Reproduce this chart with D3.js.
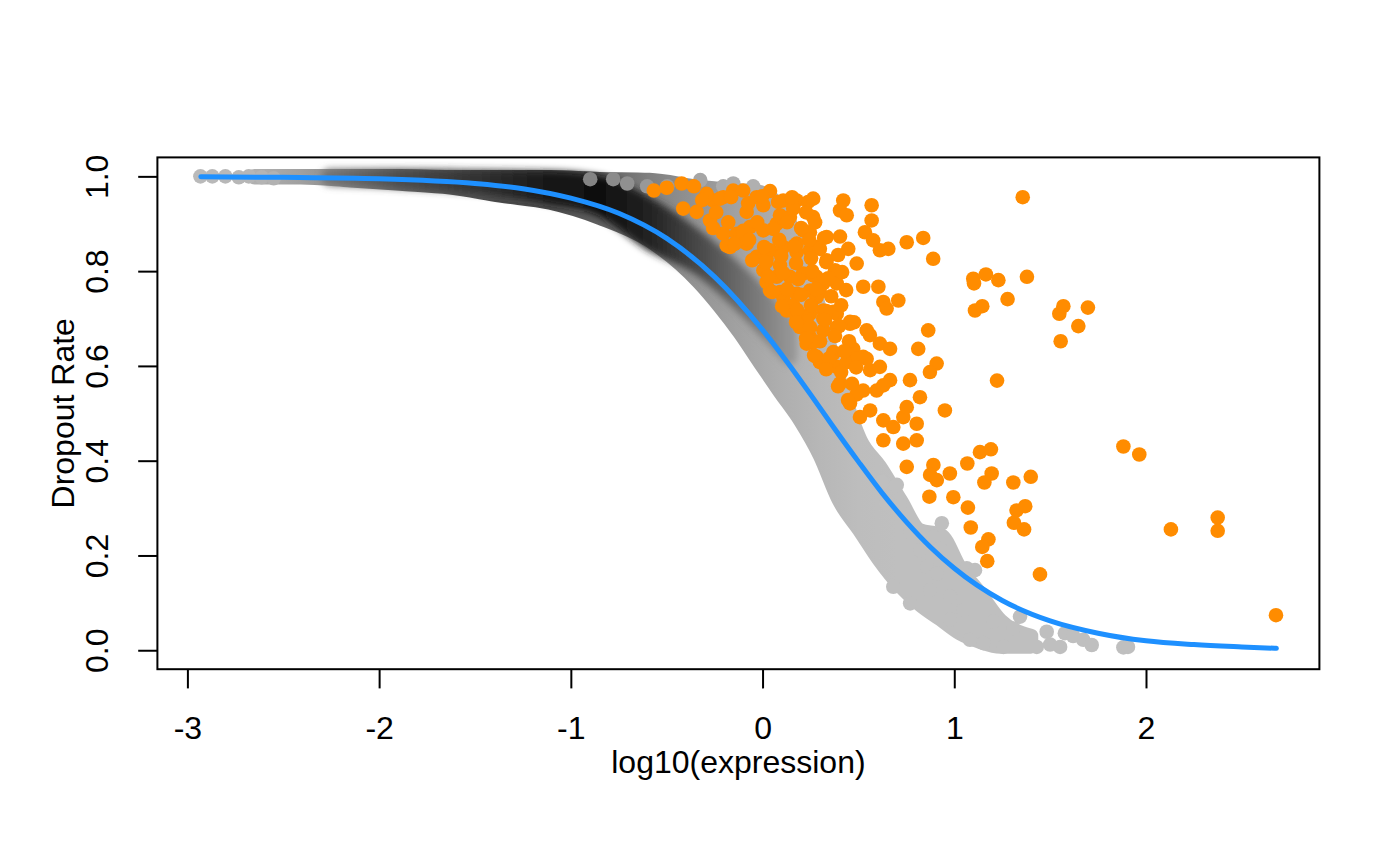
<!DOCTYPE html>
<html><head><meta charset="utf-8">
<script src="https://cdn.jsdelivr.net/npm/d3@7"></script>
<style>
body{margin:0;background:#fff}
svg{display:block}
text{font-family:"Liberation Sans",Arial,Helvetica,sans-serif;fill:#000}
</style>
</head><body>
<svg id="chart" width="1400" height="865"></svg>
<script>
// ---------------- data ----------------
const xTicks = [-3, -2, -1, 0, 1, 2];
const yTicks = [0, 0.2, 0.4, 0.6, 0.8, 1.0];
const yLimits = [0, 1];
const xTitle = "log10(expression)";
const yTitle = "Dropout Rate";

// dense cloud of all genes: envelope of point centres (log10 expression -> dropout)
const bandX    = [-2.65,-2.41,-2.15,-1.89,-1.63,-1.37,-1.11,-0.85,-0.59,-0.33,-0.22,-0.12,-0.01,0.09,0.20,0.30,0.40,0.51,0.61,0.72,0.82,0.93,1.03,1.13,1.24,1.40];
const bandHigh = [1.000,1.000,1.000,1.000,0.998,0.998,0.998,0.994,0.992,0.977,0.973,0.970,0.966,0.935,0.848,0.717,0.570,0.443,0.388,0.316,0.253,0.243,0.173,0.122,0.063,0.030];
const bandLow  = [0.998,0.998,0.992,0.985,0.977,0.960,0.945,0.913,0.865,0.776,0.724,0.671,0.605,0.546,0.483,0.411,0.316,0.251,0.190,0.135,0.097,0.065,0.036,0.019,0.008,0.008];
// relative point density along the cloud (0 = sparse, 1 = densest)
const bandDensX     = [-2.93,-2.65,-2.41,-2.15,-1.89,-1.63,-1.37,-1.11,-0.85,-0.59,-0.33,-0.12,0.09,0.30,0.50,0.70];
const bandDensLevel = [0.04,0.08,0.16,0.30,0.45,0.55,0.60,0.60,0.50,0.33,0.22,0.15,0.09,0.04,0.01,0.00];
// densest core of the cloud
const coreX    = [-2.26,-1.89,-1.47,-1.11,-0.85,-0.59,-0.33,-0.07,0.14];
const coreHigh = [1.000,1.000,0.998,0.996,0.986,0.939,0.867,0.776,0.682];
const coreLow  = [0.996,0.990,0.979,0.958,0.933,0.860,0.806,0.711,0.617];
const coreDensLevel = [0.40,0.60,0.75,0.88,0.92,0.82,0.62,0.40,0.22];

// individually visible genes at the cloud edges
const greyGenes = [
  [-2.932,1.000],[-2.870,1.000],[-2.802,1.000],[-2.732,0.998],[-2.680,1.000],[-2.612,0.998],[-2.550,0.996],
  [-0.899,0.994],[-0.779,0.994],[-0.706,0.985],[-0.602,0.979],[-0.497,0.979],[-0.325,0.992],[-0.205,0.979],[-0.153,0.985],[-0.049,0.979],
  [0.622,0.355],[0.700,0.349],[0.717,0.306],[0.648,0.310],[0.770,0.250],[0.822,0.211],[0.891,0.239],[0.935,0.268],
  [0.926,0.215],[0.857,0.176],[0.909,0.162],[1.065,0.173],[1.108,0.169],[0.682,0.134],[0.770,0.099],[0.874,0.127],
  [0.978,0.113],[1.047,0.085],[0.978,0.064],[1.204,0.060],[1.343,0.071],[1.308,0.046],[1.482,0.039],[1.577,0.036],
  [1.673,0.022],[1.717,0.011],[1.882,0.006],[1.906,0.007],[1.430,0.007],[1.552,0.007],[1.256,0.007],[1.152,0.015],[1.082,0.022],
  [1.500,0.012],[1.620,0.030]
];

// highlighted (significant) genes
const highlightGenes = [
  [-0.567,0.970],[-0.500,0.976],[-0.422,0.985],[-0.358,0.979],[-0.414,0.932],[-0.344,0.925],[-0.292,0.963],[-0.257,0.949],
  [-0.205,0.956],[-0.153,0.970],[-0.101,0.970],[-0.031,0.956],[0.039,0.969],[0.108,0.949],[0.178,0.949],[0.238,0.946],
  [0.264,0.914],[-0.274,0.907],[-0.205,0.879],[-0.135,0.879],[-0.066,0.893],[0.004,0.886],[0.074,0.900],[0.143,0.914],
  [0.212,0.886],[-0.170,0.851],[-0.083,0.858],[-0.031,0.830],[0.039,0.844],[0.108,0.851],[0.178,0.858],[0.247,0.844],
  [0.282,0.851],[0.334,0.872],[0.404,0.873],[0.421,0.949],[0.404,0.928],[0.439,0.918],[0.569,0.939],[0.569,0.907],
  [0.534,0.882],[0.577,0.865],[0.612,0.844],[0.656,0.847],[0.752,0.861],[0.838,0.870],[0.890,0.826],[0.447,0.847],
  [0.491,0.816],[0.334,0.823],[0.378,0.802],[0.387,0.774],[0.525,0.767],[0.604,0.767],[0.630,0.735],[0.647,0.721],
  [0.708,0.738],[0.004,0.802],[0.074,0.788],[0.143,0.788],[0.212,0.795],[0.282,0.788],[0.317,0.774],[0.039,0.759],
  [0.108,0.745],[0.178,0.752],[0.247,0.759],[0.282,0.745],[0.126,0.717],[0.178,0.703],[0.247,0.710],[0.317,0.717],
  [0.387,0.710],[0.195,0.682],[0.247,0.661],[0.317,0.675],[0.387,0.682],[0.456,0.689],[0.543,0.675],[0.230,0.647],
  [0.282,0.619],[0.369,0.626],[0.456,0.633],[0.525,0.619],[0.387,0.598],[0.404,0.563],[0.561,0.591],[0.612,0.598],
  [0.665,0.570],[0.769,0.570],[0.821,0.534],[0.456,0.521],[0.508,0.492],[0.561,0.506],[0.630,0.485],[0.682,0.471],
  [0.734,0.492],[0.752,0.513],[0.804,0.478],[0.630,0.443],[0.734,0.436],[0.804,0.443],[0.864,0.675],[0.812,0.636],
  [0.908,0.605],[0.873,0.587],[0.951,0.506],[0.612,0.647],[0.665,0.636],[0.525,0.548],[0.595,0.548],[0.630,0.559],
  [0.491,0.540],
  [-0.292,0.960],[-0.222,0.953],[-0.083,0.925],[-0.135,0.861],[-0.187,0.854],[0.021,0.826],[0.091,0.812],[0.178,0.840],
  [0.247,0.882],[0.299,0.847],[0.021,0.777],[0.091,0.756],[0.160,0.728],[0.264,0.791],[0.299,0.756],[0.230,0.693],
  [0.317,0.700],[0.369,0.714],[0.456,0.693],[0.264,0.650],[0.369,0.629],[0.473,0.636],[0.560,0.665],[0.543,0.615],
  [0.439,0.608],[0.299,0.608],[0.004,0.939],[0.091,0.918],[0.160,0.932],[0.264,0.953],
  [-0.315,0.950],[-0.242,0.924],[-0.164,0.956],[-0.075,0.943],[-0.002,0.958],[0.081,0.946],[0.154,0.956],[0.227,0.924],
  [-0.258,0.891],[-0.179,0.903],[-0.101,0.885],[-0.028,0.903],[0.055,0.889],[0.128,0.903],[0.201,0.891],[0.274,0.903],
  [-0.148,0.857],[-0.070,0.866],[0.008,0.851],[0.087,0.866],[0.165,0.853],[0.243,0.866],[0.321,0.870],
  [-0.054,0.823],[0.019,0.819],[0.097,0.832],[0.175,0.817],[0.253,0.827],[0.332,0.819],[0.394,0.834],
  [0.029,0.789],[0.107,0.796],[0.186,0.783],[0.259,0.800],[0.342,0.785],[0.415,0.798],
  [0.050,0.756],[0.128,0.762],[0.201,0.750],[0.279,0.762],[0.358,0.747],[0.436,0.760],
  [0.102,0.726],[0.180,0.718],[0.253,0.728],[0.332,0.716],[0.410,0.728],
  [0.175,0.692],[0.248,0.682],[0.326,0.697],[0.399,0.684],[0.477,0.692],
  [0.227,0.658],[0.300,0.652],[0.378,0.663],[0.451,0.652],
  [0.269,0.622],[0.347,0.616],[0.425,0.631],[0.498,0.616],
  [0.332,0.593],[0.410,0.587],[0.488,0.597],
  [0.394,0.557],[0.467,0.562],[0.446,0.528],
  [0.752,0.387],[0.891,0.391],[0.874,0.370],[0.909,0.359],[0.870,0.324],
  [1.357,0.956],[1.099,0.784],[1.103,0.774],[1.165,0.793],[1.230,0.781],[1.379,0.788],[1.278,0.741],[1.108,0.717],
  [1.146,0.726],[1.548,0.710],[1.569,0.726],[1.697,0.723],[1.647,0.684],[1.555,0.652],[1.223,0.569],[1.882,0.430],
  [1.965,0.413],[1.134,0.418],[1.191,0.424],[1.068,0.394],[0.977,0.373],[1.195,0.373],[1.157,0.354],[1.308,0.354],
  [1.399,0.366],[0.995,0.323],[1.071,0.301],[1.325,0.295],[1.370,0.304],[1.311,0.269],[1.364,0.255],[1.086,0.259],
  [1.178,0.234],[1.146,0.218],[1.172,0.188],[1.447,0.160],[2.130,0.255],[2.374,0.280],[2.374,0.252],[2.678,0.074]
];

// fitted Michaelis-Menten curve
const fitX = [-2.93,-2.5,-2,-1.5,-1.25,-1,-0.75,-0.5,-0.25,0,0.125,0.25,0.375,0.5,0.625,0.75,0.875,1,1.25,1.5,1.75,2,2.25,2.5,2.68];
const fitY = [0.999,0.998,0.995,0.985,0.974,0.954,0.922,0.869,0.788,0.676,0.610,0.540,0.468,0.398,0.331,0.271,0.218,0.173,0.105,0.062,0.036,0.020,0.012,0.007,0.004];

// ---------------- drawing ----------------
const svg = d3.select("#chart");
const plotL = 157.4, plotR = 1319.4, plotT = 157.4, plotB = 669.2;

const allX = [].concat(greyGenes.map(d=>d[0]), highlightGenes.map(d=>d[0]), bandX, fitX);
const xExt = d3.extent(allX);
const xPad = (xExt[1]-xExt[0])*0.04;
const yPad = (yLimits[1]-yLimits[0])*0.04;
const x = d3.scaleLinear().domain([xExt[0]-xPad, xExt[1]+xPad]).range([plotL, plotR]);
const y = d3.scaleLinear().domain([yLimits[0]-yPad, yLimits[1]+yPad]).range([plotB, plotT]);

const densColor = d3.interpolateRgb("#BFBFBF", "#000000");
const defs = svg.append("defs");
function makeGrad(id, xs, levels){
  const a = x(xs[0]), b = x(xs[xs.length-1]);
  const g = defs.append("linearGradient").attr("id", id)
    .attr("gradientUnits","userSpaceOnUse").attr("x1",a).attr("x2",b).attr("y1",0).attr("y2",0);
  xs.forEach((v,i)=> g.append("stop").attr("offset",(x(v)-a)/(b-a)).attr("stop-color",densColor(levels[i])));
}
makeGrad("bandGrad", bandDensX, bandDensLevel);
makeGrad("coreGrad", coreX, coreDensLevel);
const blur = defs.append("filter").attr("id","soft").attr("x","-10%").attr("y","-10%").attr("width","120%").attr("height","120%");
blur.append("feGaussianBlur").attr("stdDeviation",3.5);

const ptR = 7.3;

// outer cloud
const bandArea = d3.area().curve(d3.curveMonotoneX)
  .x((d,i)=>x(bandX[i])).y0((d,i)=>y(bandLow[i])).y1((d,i)=>y(bandHigh[i]));
svg.append("path").attr("d", bandArea(bandX))
  .attr("fill","url(#bandGrad)").attr("stroke","url(#bandGrad)")
  .attr("stroke-width", ptR*2).attr("stroke-linejoin","round");

// dense core
const coreArea = d3.area().curve(d3.curveMonotoneX)
  .x((d,i)=>x(coreX[i])).y0((d,i)=>y(coreLow[i])).y1((d,i)=>y(coreHigh[i]));
svg.append("path").attr("d", coreArea(coreX))
  .attr("fill","url(#coreGrad)").attr("stroke","url(#coreGrad)")
  .attr("stroke-width", ptR*2).attr("stroke-linejoin","round").attr("filter","url(#soft)");

// visible individual grey genes
const levelAt = d3.scaleLinear().domain(bandDensX).range(bandDensLevel).clamp(true);
svg.append("g").selectAll("circle").data(greyGenes).join("circle")
  .attr("cx", d=>x(d[0])).attr("cy", d=>y(d[1])).attr("r", ptR)
  .attr("fill", d=>densColor(levelAt(d[0])*0.6));

// fitted curve
svg.append("path")
  .attr("d", d3.line().curve(d3.curveMonotoneX).x((d,i)=>x(fitX[i])).y((d,i)=>y(fitY[i]))(fitX))
  .attr("fill","none").attr("stroke","#1E90FF").attr("stroke-width",5).attr("stroke-linecap","round");

// highlighted genes
svg.append("g").selectAll("circle").data(highlightGenes).join("circle")
  .attr("cx", d=>x(d[0])).attr("cy", d=>y(d[1])).attr("r", ptR).attr("fill","#FF8C00");

// box
svg.append("rect").attr("x",plotL).attr("y",plotT).attr("width",plotR-plotL).attr("height",plotB-plotT)
  .attr("fill","none").attr("stroke","#000").attr("stroke-width",2);

// x axis
const xAxis = svg.append("g").attr("transform",`translate(0,${plotB})`)
  .call(d3.axisBottom(x).tickValues(xTicks).tickSize(19.2).tickSizeOuter(0).tickFormat(d3.format("d")));
xAxis.select(".domain").remove();
xAxis.selectAll(".tick line").attr("stroke","#000").attr("stroke-width",2);
xAxis.selectAll(".tick text").attr("y",70.3).attr("dy",0).attr("font-size",32)
  .attr("font-family",'"Liberation Sans",Arial,Helvetica,sans-serif').text(d=>String(d).replace("\u2212","-"));

// y axis
const yAxis = svg.append("g").attr("transform",`translate(${plotL},0)`)
  .call(d3.axisLeft(y).tickValues(yTicks).tickSize(19.2).tickSizeOuter(0).tickFormat(d3.format(".1f")));
yAxis.select(".domain").remove();
yAxis.selectAll(".tick line").attr("stroke","#000").attr("stroke-width",2);
yAxis.selectAll(".tick text").attr("x",0).attr("dy",0).attr("font-size",32)
  .attr("font-family",'"Liberation Sans",Arial,Helvetica,sans-serif')
  .attr("text-anchor","middle").attr("transform","translate(-49.4,0) rotate(-90)");

// titles
svg.append("text").attr("x",(plotL+plotR)/2).attr("y",773).attr("text-anchor","middle")
  .attr("font-size",32).text(xTitle);
svg.append("text").attr("transform",`translate(74,${(plotT+plotB)/2}) rotate(-90)`)
  .attr("text-anchor","middle").attr("font-size",32).text(yTitle);
</script>
</body></html>
